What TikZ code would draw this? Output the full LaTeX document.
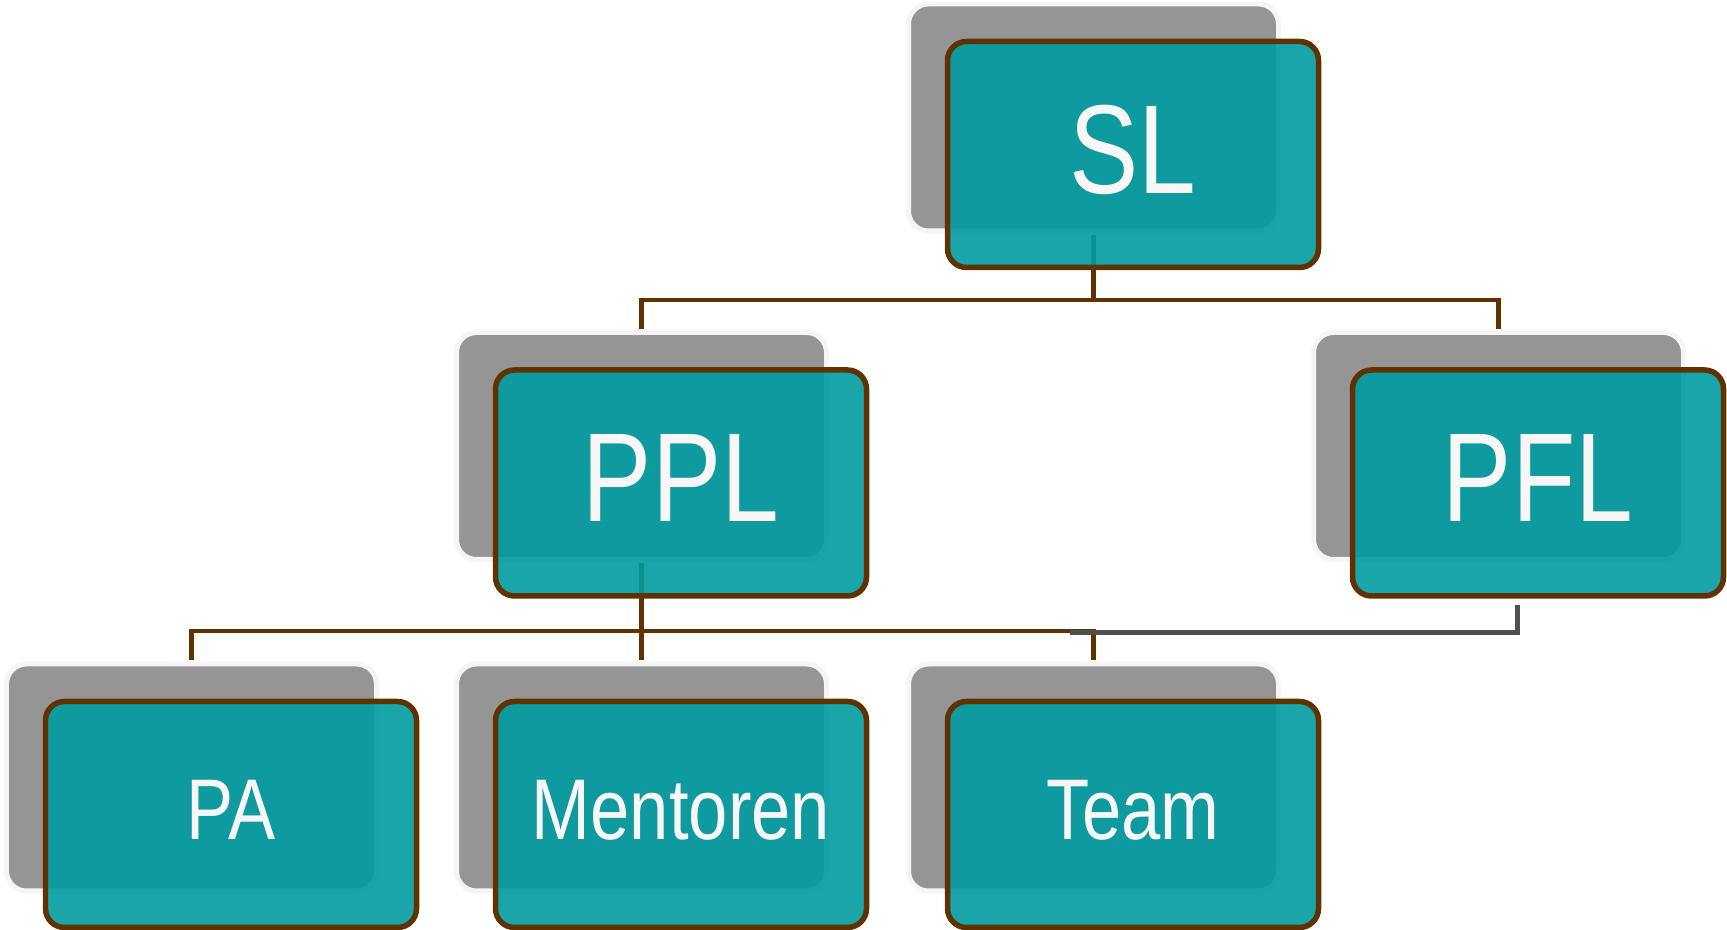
\documentclass[tikz,border=0pt]{standalone}
\usepackage{fontspec}
\newfontfamily\cardfont[FakeStretch=0.82]{Liberation Sans}
\usetikzlibrary{positioning}
\definecolor{cardteal}{RGB}{0,155,160}
\definecolor{cardbrown}{RGB}{96,50,0}
\definecolor{cardgrey}{RGB}{149,149,149}
\definecolor{cardrim}{RGB}{245,245,245}
\definecolor{linkgrey}{RGB}{80,80,80}
\definecolor{cardtext}{RGB}{247,247,247}

\begin{document}
\begin{tikzpicture}[
backcard/.style={rectangle,rounded corners=0.2cm,fill=cardgrey,draw=cardrim,line width=0.05cm,minimum width=3.7cm,minimum height=2.27cm,outer sep=0pt},
frontcard/.style={rectangle,rounded corners=0.19cm,fill=cardteal,fill opacity=0.9,text opacity=1,draw=cardbrown,draw opacity=1,line width=0.055cm,minimum width=3.71cm,minimum height=2.26cm,outer sep=0pt,text=cardtext,text depth=0.1cm},
bigtext/.style={font=\cardfont\fontsize{36}{40}\selectfont},
smalltext/.style={font=\cardfont\fontsize{24.5}{28}\selectfont},
link/.style={draw=cardbrown,line width=0.042cm},
greylink/.style={draw=linkgrey,line width=0.05cm}
]
\useasboundingbox (0,0) rectangle (17.27,9.30);

\node[backcard] (SLb) at (10.935,8.125) {};
\node[backcard] (PPLb) at (6.415,4.84) {};
\node[backcard] (PFLb) at (14.985,4.84) {};
\node[backcard] (PAb) at (1.915,1.525) {};
\node[backcard] (Mentorenb) at (6.415,1.525) {};
\node[backcard] (Teamb) at (10.935,1.525) {};

\coordinate (topbar) at (0,6.30);
\coordinate (lowbar) at (0,2.99);
\draw[link] ([yshift=-0.04cm]SLb.south) -- (SLb.south |- topbar);
\draw[link] ([yshift=0.03cm]PPLb.north) |- (topbar -| PFLb.north) -- ([yshift=0.03cm]PFLb.north);
\draw[link] ([yshift=-0.035cm]PPLb.south) -- ([yshift=0.04cm]Mentorenb.north);
\draw[link] ([yshift=0.04cm]PAb.north) |- (lowbar -| Teamb.north) -- ([yshift=0.04cm]Teamb.north);

\node[frontcard,bigtext] (SL) at ([shift={(0.395,-0.37)}]SLb.center) {SL};
\node[frontcard,bigtext] (PPL) at ([shift={(0.395,-0.37)}]PPLb.center) {PPL};
\node[frontcard,bigtext] (PFL) at ([shift={(0.395,-0.37)}]PFLb.center) {PFL};
\node[frontcard,smalltext] (PA) at ([shift={(0.395,-0.37)}]PAb.center) {PA};
\node[frontcard,smalltext] (Mentoren) at ([shift={(0.395,-0.37)}]Mentorenb.center) {Mentoren};
\node[frontcard,smalltext] (Team) at ([shift={(0.395,-0.37)}]Teamb.center) {Team};

\coordinate (greyend) at (10.70,2.975);
\draw[greylink] ([shift={(-0.21,-0.09)}]PFL.south) |- (greyend);

\end{tikzpicture}
\end{document}
